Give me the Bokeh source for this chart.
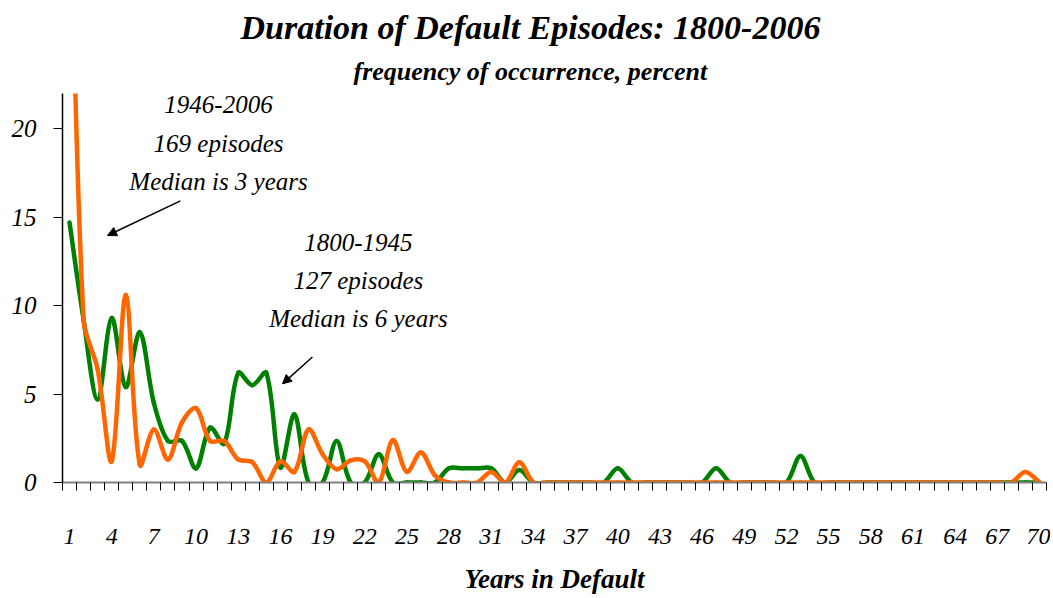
import math
from bokeh.plotting import figure
from bokeh.models import (Range1d, FixedTicker, ColumnDataSource, Label, Arrow,
                          NormalHead, Title)
from bokeh.embed import file_html
from bokeh.resources import INLINE

# ---------------- data ----------------
years = list(range(1, 71))

# 1800-1945 episodes (green), percent of episodes
green_1800_1945 = [14.7, 9.2, 4.7, 9.3, 5.4, 8.5, 4.5, 2.35, 2.35, 0.8,
                   3.1, 2.2, 6.2, 5.5, 6.2, 0.85, 3.85, 0.0, 0.0, 2.35,
                   0.0, 0.0, 1.6, 0.0, 0.0, 0.0, 0.0, 0.8, 0.8, 0.8,
                   0.8, 0.0, 0.7, 0.0, 0.0, 0.0, 0.0, 0.0, 0.0, 0.8,
                   0.0, 0.0, 0.0, 0.0, 0.0, 0.0, 0.8, 0.0, 0.0, 0.0,
                   0.0, 0.0, 1.5, 0.0, 0.0, 0.0, 0.0, 0.0, 0.0, 0.0,
                   0.0, 0.0, 0.0, 0.0, 0.0, 0.0, 0.0, 0.0, 0.0, 0.0]

# 1946-2006 episodes (orange), percent of episodes
orange_1946_2006 = [36.0, 9.2, 6.4, 1.2, 10.6, 1.0, 3.0, 1.3, 3.4, 4.2,
                    2.35, 2.35, 1.3, 1.15, 0.0, 1.2, 0.6, 3.0, 1.6, 0.75,
                    1.25, 1.2, 0.0, 2.4, 0.6, 1.7, 0.4, 0.0, 0.0, 0.0,
                    0.6, 0.0, 1.15, 0.0, 0.0, 0.0, 0.0, 0.0, 0.0, 0.0,
                    0.0, 0.0, 0.0, 0.0, 0.0, 0.0, 0.0, 0.0, 0.0, 0.0,
                    0.0, 0.0, 0.0, 0.0, 0.0, 0.0, 0.0, 0.0, 0.0, 0.0,
                    0.0, 0.0, 0.0, 0.0, 0.0, 0.0, 0.0, 0.0, 0.6, 0.0]

x_tick_labels = list(range(1, 71, 3))
y_ticks = [0, 5, 10, 15, 20]

# pixel size of one data unit (for the spreadsheet-style smoothing handles)
PX_X, PX_Y = 14.06, 17.78
TENSION = 1.0 / 3.0


def smooth_segments(xs, ys):
    """Bezier segments through the data points (distance-weighted smoothing)."""
    n = len(xs)

    def dist(i, j):
        return math.hypot((xs[j] - xs[i]) * PX_X, (ys[j] - ys[i]) * PX_Y)

    out_h, in_h = [], []   # handle after / before each point
    for i in range(n):
        a = max(i - 1, 0)
        b = min(i + 1, n - 1)
        tx, ty = xs[b] - xs[a], ys[b] - ys[a]
        dp = dist(a, i) if i > 0 else 0.0
        dn = dist(i, b) if i < n - 1 else 0.0
        tot = dp + dn if dp + dn > 0 else 1.0
        if i == 0 or i == n - 1:
            fo = fi = TENSION / 2.0
        else:
            fo = TENSION * dn / tot
            fi = TENSION * dp / tot
        out_h.append((xs[i] + tx * fo, ys[i] + ty * fo))
        in_h.append((xs[i] - tx * fi, ys[i] - ty * fi))
    d = dict(x0=[], y0=[], x1=[], y1=[], cx0=[], cy0=[], cx1=[], cy1=[])
    for i in range(n - 1):
        d["x0"].append(xs[i]); d["y0"].append(ys[i])
        d["x1"].append(xs[i + 1]); d["y1"].append(ys[i + 1])
        d["cx0"].append(out_h[i][0]); d["cy0"].append(out_h[i][1])
        d["cx1"].append(in_h[i + 1][0]); d["cy1"].append(in_h[i + 1][1])
    return ColumnDataSource(d)


FONT = "Liberation Serif"

p = figure(width=1050, height=596, x_range=Range1d(0.5, 70.5), y_range=Range1d(0, 22),
           output_backend="svg", toolbar_location=None, title=None,
           min_border_left=62, min_border_right=4, min_border_top=93, min_border_bottom=113)
p.outline_line_color = None
p.xgrid.visible = False
p.ygrid.visible = False
p.background_fill_color = "white"
p.border_fill_color = "white"

# titles
p.add_layout(Title(text="frequency of occurrence, percent", align="left", offset=291,
                   text_font=FONT, text_font_style="bold italic", text_font_size="26px",
                   text_color="black", standoff=15), "above")
p.add_layout(Title(text="Duration of Default Episodes: 1800-2006", align="left", offset=178,
                   text_font=FONT, text_font_style="bold italic", text_font_size="34px",
                   text_color="black", standoff=3), "above")

# lines
for vals, color in ((green_1800_1945, "#008000"), (orange_1946_2006, "#FF6600")):
    src = smooth_segments(years, vals)
    p.bezier(x0="x0", y0="y0", x1="x1", y1="y1", cx0="cx0", cy0="cy0",
             cx1="cx1", cy1="cy1", source=src, line_color=color, line_width=4.5,
             line_cap="round")

# x axis
xa = p.xaxis[0]
xa.ticker = FixedTicker(ticks=x_tick_labels, minor_ticks=[i + 0.5 for i in range(0, 71)])
xa.major_tick_line_color = None
xa.major_tick_out = 0
xa.major_tick_in = 0
xa.minor_tick_out = 8
xa.minor_tick_in = 0
xa.minor_tick_line_color = "black"
xa.axis_line_color = "#808080"
xa.axis_line_width = 2
xa.major_label_standoff = 38
xa.major_label_text_font = FONT
xa.major_label_text_font_style = "italic"
xa.major_label_text_font_size = "24px"
xa.major_label_text_color = "black"
xa.axis_label = "Years in Default"
xa.axis_label_text_font = FONT
xa.axis_label_text_font_style = "bold italic"
xa.axis_label_text_font_size = "27px"
xa.axis_label_text_color = "black"
xa.axis_label_standoff = 17

# y axis
ya = p.yaxis[0]
ya.ticker = FixedTicker(ticks=y_ticks, minor_ticks=[])
ya.major_tick_out = 9
ya.major_tick_in = 0
ya.major_tick_line_color = "black"
ya.minor_tick_line_color = None
ya.axis_line_color = "black"
ya.axis_line_width = 1.5
ya.major_label_standoff = 17
ya.major_label_text_font = FONT
ya.major_label_text_font_style = "italic"
ya.major_label_text_font_size = "25px"
ya.major_label_text_color = "black"

# annotations
ann_style = dict(text_align="center", text_baseline="middle", text_font=FONT,
                 text_font_style="italic", text_font_size="25px", text_color="black")
for txt, yy in (("1946-2006", 21.4), ("169 episodes", 19.2), ("Median is 3 years", 17.05)):
    p.add_layout(Label(x=11.6, y=yy, text=txt, **ann_style))
for txt, yy in (("1800-1945", 13.57), ("127 episodes", 11.43), ("Median is 6 years", 9.3)):
    p.add_layout(Label(x=21.55, y=yy, text=txt, **ann_style))

p.add_layout(Arrow(end=NormalHead(size=9, fill_color="black", line_color="black"),
                   x_start=8.89, y_start=15.93, x_end=3.7, y_end=13.97,
                   line_color="black", line_width=1.5))
p.add_layout(Arrow(end=NormalHead(size=9, fill_color="black", line_color="black"),
                   x_start=18.28, y_start=7.1, x_end=16.15, y_end=5.58,
                   line_color="black", line_width=1.5))

open("out.html", "w").write(file_html(p, INLINE))
